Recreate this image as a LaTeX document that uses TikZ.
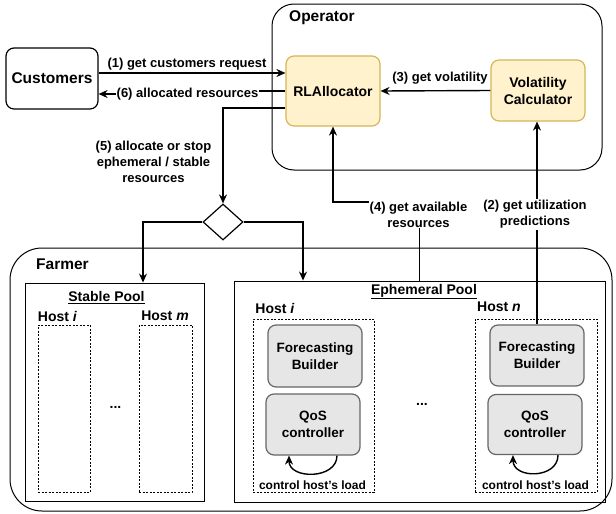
\documentclass[tikz,border=0pt]{standalone}
\usepackage{fontspec}
\setmainfont{Liberation Sans}
\usetikzlibrary{shapes.geometric,arrows.meta,calc}
\definecolor{yfill}{HTML}{FFF2CC}
\definecolor{yline}{HTML}{D6B656}
\definecolor{gfill}{HTML}{E6E6E6}
\definecolor{gline}{HTML}{666666}
\tikzset{
  fs/.style={font=\bfseries\fontsize{#1}{16}\selectfont},
  box/.style={draw, rounded corners=8pt, align=center, inner sep=0pt, line width=1.2pt},
  yel/.style={box, fill=yfill, draw=yline, fs=14},
  gry/.style={box, fill=gfill, draw=gline, fs=13.5},
  hostbox/.style={draw, dash pattern=on 2pt off 1.5pt, line width=0.7pt, inner sep=0pt},
  pool/.style={draw, line width=0.9pt, inner sep=0pt},
  arr/.style={-{Stealth[length=9pt,width=8pt,inset=3pt]}, line width=1.4pt},
  lbl/.style={fill=white, inner sep=1pt, align=center, fs=13},
  ttl/.style={fs=15.5, inner sep=0pt},
  hst/.style={fs=14, inner sep=0pt},
}
\begin{document}
\begin{tikzpicture}[x=1pt,y=-1pt]
\useasboundingbox (0,0) rectangle (616,514);
% groups
\node[draw, line width=1pt, rounded corners=22pt, minimum width=330pt, minimum height=166pt, inner sep=0pt] (op) at (437,87) {};
\node[ttl, anchor=west] (optitle) at (289,18) {Operator};
\node[draw, line width=1pt, rounded corners=32pt, minimum width=602pt, minimum height=263pt, inner sep=0pt] (farm) at (311,379.5) {};
\node[ttl, anchor=west] (farmtitle) at (36,264) {Farmer};
% customers
\node[box, fs=15.5, minimum width=92pt, minimum height=61pt] (cust) at (52,78.5) {Customers};
% operator boxes
\node[yel, minimum width=94pt, minimum height=70pt] (rla) at (333,91) {RLAllocator};
\node[yel, minimum width=94pt, minimum height=61pt] (vc) at (538,90.5) {Volatility\\[1pt]Calculator};
% diamond
\node[draw, diamond, line width=1.2pt, minimum width=40pt, minimum height=36pt, inner sep=0pt] (dia) at (223,222) {};
% pools
\node[pool, minimum width=179pt, minimum height=218pt] (sp) at (114.5,392) {};
\node[ttl, fs=14] (sptitle) at (106.5,297.5) {\underline{Stable Pool}};
\node[pool, minimum width=371pt, minimum height=221pt] (ep) at (419.5,391.5) {};
\node[ttl, fs=14] (eptitle) at (424,291.5) {\underline{Ephemeral Pool}};
% stable hosts
\node[hst] (shi) at (57.5,316) {Host \textit{i}};
\node[hostbox, minimum width=52pt, minimum height=167pt] (sbi) at (64,408.5) {};
\node[hst] (shm) at (165,316) {Host \textit{m}};
\node[hostbox, minimum width=53pt, minimum height=167pt] (sbm) at (165.5,408.5) {};
\node[hst] (sdots) at (115.5,407) {...};
% ephemeral hosts
\node[hst] (ehi) at (275,308) {Host \textit{i}};
\node[hostbox, minimum width=121pt, minimum height=173pt] (ebi) at (313.5,405.5) {};
\node[hst] (ehn) at (499,307) {Host \textit{n}};
\node[hostbox, minimum width=122pt, minimum height=173pt] (ebn) at (536,405.5) {};
\node[hst] (edots) at (422,404) {...};
\node[gry, minimum width=94pt, minimum height=62pt] (fb1) at (315,356) {Forecasting\\[1pt]Builder};
\node[gry, minimum width=94pt, minimum height=61pt] (q1) at (313,424.5) {QoS\\[1pt]controller};
\node[gry, minimum width=94pt, minimum height=61pt] (fb2) at (537,355.5) {Forecasting\\[1pt]Builder};
\node[gry, minimum width=94pt, minimum height=60pt] (q2) at (535,424.5) {QoS\\[1pt]controller};
\node[fs=12, inner sep=0pt] (cl1) at (312.5,485) {control host's load};
\node[fs=12, inner sep=0pt] (cl2) at (535.5,485) {control host's load};
% loops
\draw[arr] ([xshift=24pt]q1.south) .. controls +(0,24) and +(0,24) .. ([xshift=-24pt]q1.south);
\draw[arr] ([xshift=23pt]q2.south) .. controls +(0,24) and +(0,24) .. ([xshift=-22pt]q2.south);
% connectors
\draw[arr] (cust.east |- 0,73) -- (rla.west |- 0,73);
\node[lbl, fill=none] (l1) at (187,64) {(1) get customers request};
\draw[arr] (rla.west |- 0,91) -- (190,91) -- (190,94) -- (cust.east |- 0,94);
\node[lbl] (l6) at (187.5,94.5) {(6) allocated resources};
\draw[arr] (rla.west |- 0,108) -| (dia.north);
\node[lbl, fill=none] (l5) at (153.5,162) {(5) allocate or stop\\ephemeral / stable\\resources};
\draw[arr] (vc.west) -- (rla.east);
\node[lbl, fill=none] (l3) at (440,78) {(3) get volatility};
\draw[arr] (ep.north) |- (rla.south |- 0,202) -- (rla.south);
\node[lbl] (l4) at (418.5,214.5) {(4) get available\\resources};
\draw[arr] (fb2.north) -- (fb2.north |- vc.south);
\node[lbl] (l2) at (535,214.5) {(2) get utilization\\predictions};
\draw[arr] (dia.west) -| (sp.north -| 143,0);
\draw[arr] (dia.east) -| (ep.north -| 303,0);
\end{tikzpicture}
\end{document}
